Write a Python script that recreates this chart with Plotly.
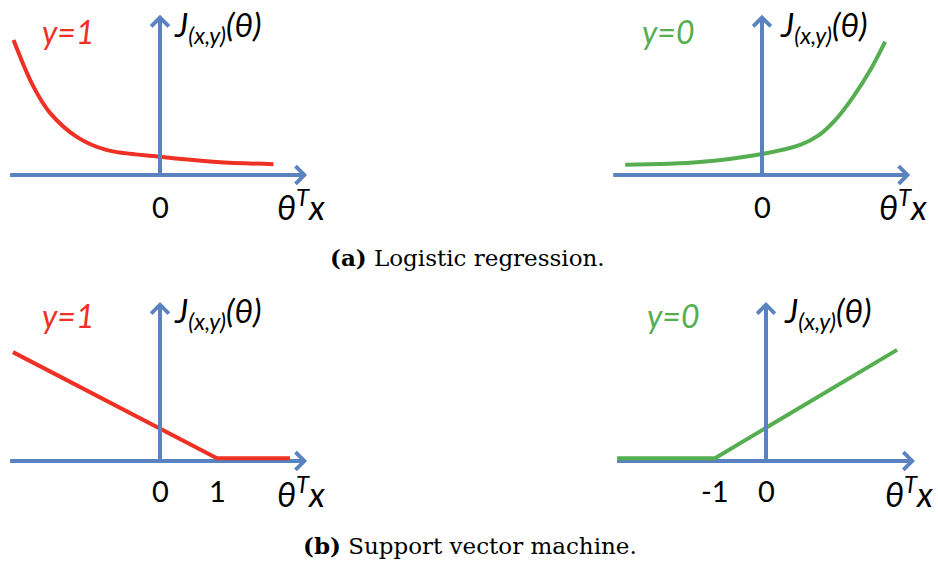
import plotly.graph_objects as go

W, H = 938, 563

# ---- data (cost curves, in theta^T x units) ----
# (a) logistic regression, y = 1
log1_x = [-2.57, -2.22, -1.93, -1.46, -0.94, 0.0, 0.99, 1.99]
log1_y = [2.37, 1.55, 1.09, 0.67, 0.44, 0.32, 0.23, 0.19]
# (a) logistic regression, y = 0
log0_x = [-2.40, -1.09, 0.0, 0.67, 1.0, 1.3, 1.6, 1.9, 2.16]
log0_y = [0.18, 0.23, 0.37, 0.53, 0.70, 0.98, 1.37, 1.84, 2.34]
# (b) SVM hinge cost, y = 1
svm1_x = [-2.58, 1.0, 2.28]
svm1_y = [1.91, 0.05, 0.05]
# (b) SVM hinge cost, y = 0
svm0_x = [-2.92, -1.0, 2.57]
svm0_y = [0.05, 0.05, 1.95]

# axis extents per panel: (x_min, x_max, y_max)
axis_tl = (-2.63, 2.58, 2.81)
axis_tr = (-2.61, 2.60, 2.81)
axis_bl = (-2.63, 2.58, 2.79)
axis_br = (-2.92, 2.92, 2.79)

ticks_tl = [0]
ticks_tr = [0]
ticks_bl = [0, 1]
ticks_br = [-1, 0]

RED = "#EE3124"
GREEN = "#55AF50"
BLUE = "#5A82C0"
SANS = "Lato"
SERIF = "DejaVu Serif"

fig = go.Figure()

# panel geometry: box (left, top, right, bottom) px, origin px, px per unit
panels = [
    dict(box=(0, 0, 340, 230), origin=(160, 175), ux=57, uy=57,
         axis=axis_tl, ticks=ticks_tl, xs=log1_x, ys=log1_y, color=RED,
         tag="y=1", shape="spline", tag_pos=(-1.62, 2.51), j_pos=(0.21, 2.60),
         lab_pos=(2.47, -0.53), tick_y=-0.56),
    dict(box=(600, 0, 938, 230), origin=(762, 175), ux=57, uy=57,
         axis=axis_tr, ticks=ticks_tr, xs=log0_x, ys=log0_y, color=GREEN,
         tag="y=0", shape="spline", tag_pos=(-1.65, 2.51), j_pos=(0.28, 2.60),
         lab_pos=(2.47, -0.53), tick_y=-0.56),
    dict(box=(0, 280, 340, 520), origin=(160, 461), ux=57, uy=57,
         axis=axis_bl, ticks=ticks_bl, xs=svm1_x, ys=svm1_y, color=RED,
         tag="y=1", shape="linear", tag_pos=(-1.62, 2.56), j_pos=(0.21, 2.60),
         lab_pos=(2.47, -0.54), tick_y=-0.51),
    dict(box=(600, 280, 938, 520), origin=(766, 461), ux=51, uy=57,
         axis=axis_br, ticks=ticks_br, xs=svm0_x, ys=svm0_y, color=GREEN,
         tag="y=0", shape="linear", tag_pos=(-1.82, 2.56), j_pos=(0.31, 2.60),
         lab_pos=(2.80, -0.54), tick_y=-0.51),
]

layout_axes = {}
annotations = []

for i, p in enumerate(panels, start=1):
    xa = "x" if i == 1 else f"x{i}"
    ya = "y" if i == 1 else f"y{i}"
    left, top, right, bottom = p["box"]
    ox, oy = p["origin"]
    ux, uy = p["ux"], p["uy"]
    layout_axes["xaxis" if i == 1 else f"xaxis{i}"] = dict(
        domain=[left / W, right / W],
        range=[(left - ox) / ux, (right - ox) / ux],
        visible=False, fixedrange=True, anchor=ya)
    layout_axes["yaxis" if i == 1 else f"yaxis{i}"] = dict(
        domain=[1 - bottom / H, 1 - top / H],
        range=[(oy - bottom) / uy, (oy - top) / uy],
        visible=False, fixedrange=True, anchor=xa)

    xmin, xmax, ymax = p["axis"]
    line = dict(color=BLUE, width=4)
    # horizontal axis (under the curve)
    fig.add_trace(go.Scatter(x=[xmin, xmax - 0.15], y=[0, 0], mode="lines",
                             line=line, xaxis=xa, yaxis=ya, hoverinfo="skip"))
    # cost curve
    fig.add_trace(go.Scatter(x=p["xs"], y=p["ys"], mode="lines",
                             line=dict(color=p["color"], width=4,
                                       shape=p["shape"], smoothing=1.0),
                             xaxis=xa, yaxis=ya, hoverinfo="skip"))
    # vertical axis (over the curve)
    fig.add_trace(go.Scatter(x=[0, 0], y=[0, ymax - 0.15], mode="lines",
                             line=line, xaxis=xa, yaxis=ya, hoverinfo="skip"))

    # arrow heads
    for tip, tail in (((xmax, 0), (xmax - 0.3, 0)), ((0, ymax), (0, ymax - 0.3))):
        annotations.append(dict(
            x=tip[0], y=tip[1], ax=tail[0], ay=tail[1], xref=xa, yref=ya,
            axref=xa, ayref=ya, text="", showarrow=True, arrowhead=4,
            arrowsize=0.85, arrowwidth=4, arrowcolor=BLUE, standoff=0))

    # class tag
    annotations.append(dict(
        x=p["tag_pos"][0], y=p["tag_pos"][1], xref=xa, yref=ya,
        text=f"<i>{p['tag']}</i>", showarrow=False,
        font=dict(family=SANS, size=32, color=p["color"]),
        xanchor="center", yanchor="middle"))
    # cost label
    annotations.append(dict(
        x=p["j_pos"][0], y=p["j_pos"][1], xref=xa, yref=ya,
        text="<i>J<sub>(x,y)</sub>(θ)</i>", showarrow=False,
        font=dict(family=SANS, size=33, color="black"),
        xanchor="left", yanchor="middle"))
    # horizontal axis label
    annotations.append(dict(
        x=p["lab_pos"][0], y=p["lab_pos"][1], xref=xa, yref=ya,
        text="<i>θ<sup>T</sup>x</i>", showarrow=False,
        font=dict(family=SANS, size=34, color="black"),
        xanchor="center", yanchor="middle"))
    # tick labels
    for t in p["ticks"]:
        annotations.append(dict(
            x=t, y=p["tick_y"], xref=xa, yref=ya, text=str(t), showarrow=False,
            font=dict(family=SANS, size=29, color="black"),
            xanchor="center", yanchor="middle"))

# sub-figure captions
captions = [("<b>(a)</b> Logistic regression.", 467, 257),
            ("<b>(b)</b> Support vector machine.", 470, 545)]
for text, cx, cy in captions:
    annotations.append(dict(
        x=cx / W, y=1 - cy / H, xref="paper", yref="paper", text=text,
        showarrow=False, font=dict(family=SERIF, size=23, color="black"),
        xanchor="center", yanchor="middle"))

fig.update_layout(
    width=W, height=H, margin=dict(l=0, r=0, t=0, b=0),
    paper_bgcolor="white", plot_bgcolor="white", showlegend=False,
    annotations=annotations, **layout_axes)

fig.write_html("out.html", config={"displayModeBar": False})
